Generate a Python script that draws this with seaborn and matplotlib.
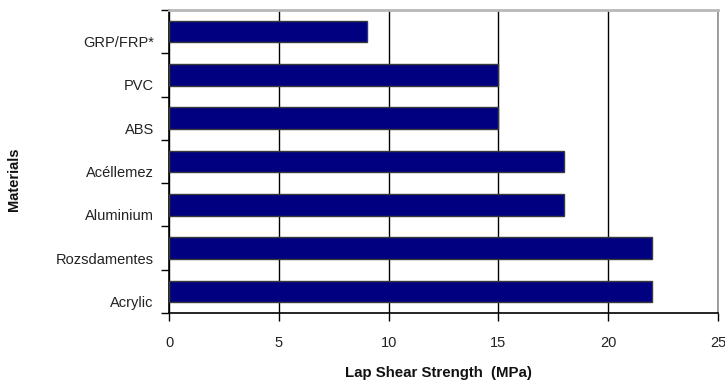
import matplotlib
matplotlib.use("Agg")
import matplotlib.pyplot as plt
from matplotlib.transforms import ScaledTranslation
import seaborn as sns
import pandas as pd
import numpy as np

materials = ["GRP/FRP*", "PVC", "ABS", "Acéllemez", "Aluminium", "Rozsdamentes", "Acrylic"]
strength = [9, 15, 15, 18, 18, 22, 22]
x_ticks = [0, 5, 10, 15, 20, 25]

df = pd.DataFrame({"Material": materials, "Strength": strength})

sns.set_theme(style="white")
plt.rcParams["font.family"] = ["Liberation Sans", "DejaVu Sans"]

fig = plt.figure(figsize=(7.25, 3.81), dpi=100)
ax = fig.add_axes([169 / 725, 1 - 313 / 381, (718 - 169) / 725, (313 - 10) / 381])

sns.barplot(data=df, x="Strength", y="Material", orient="h", ax=ax,
            color="#000080", saturation=1, width=0.5,
            edgecolor="#3a3a3a", linewidth=1.0, zorder=3)

ax.set_xlim(0, 25)
ax.set_ylim(len(materials) - 0.5, -0.5)
ax.set_xticks(x_ticks)
ax.set_xticklabels([str(t) for t in x_ticks], fontsize=10.5)

# vertical gridlines
ax.grid(axis="x", color="black", linewidth=1.0, zorder=0)
ax.grid(axis="y", visible=False)
ax.set_axisbelow(True)

# category labels at centres, tick marks at the boundaries
ax.set_yticks(np.arange(len(materials)))
ax.set_yticklabels(materials, fontsize=10.5, color="#222222")
ax.set_yticks(np.arange(len(materials) + 1) - 0.5, minor=True)
ax.tick_params(axis="y", which="major", length=0, pad=11)
ax.tick_params(axis="y", which="minor", length=6, width=1, color="black", direction="out", left=True)
ax.tick_params(axis="x", which="major", length=6, width=1, color="black", direction="out",
               bottom=True, pad=10.5, labelcolor="#222222")
shift = ScaledTranslation(0, -0.10, fig.dpi_scale_trans)
for lab in ax.get_yticklabels():
    lab.set_transform(lab.get_transform() + shift)

for side in ["left", "bottom"]:
    ax.spines[side].set_color("black")
    ax.spines[side].set_linewidth(1.2)
for side in ["top", "right"]:
    ax.spines[side].set_visible(True)
    ax.spines[side].set_color("#b8b8b8")
    ax.spines[side].set_linewidth(2)
ax.spines["right"].set_color("#909090")
ax.spines["right"].set_linewidth(1.2)

ax.set_xlabel("Lap Shear Strength  (MPa)", fontsize=10.8, fontweight="bold", color="#111111")
ax.xaxis.set_label_coords((438 - 169) / 549, -(366 - 313) / 303)
ax.set_ylabel("Materials", fontsize=10.5, fontweight="bold", color="#111111")
ax.yaxis.set_label_coords(-(169 - 21) / 549, 0.44)

fig.savefig("out.png", dpi=100)
